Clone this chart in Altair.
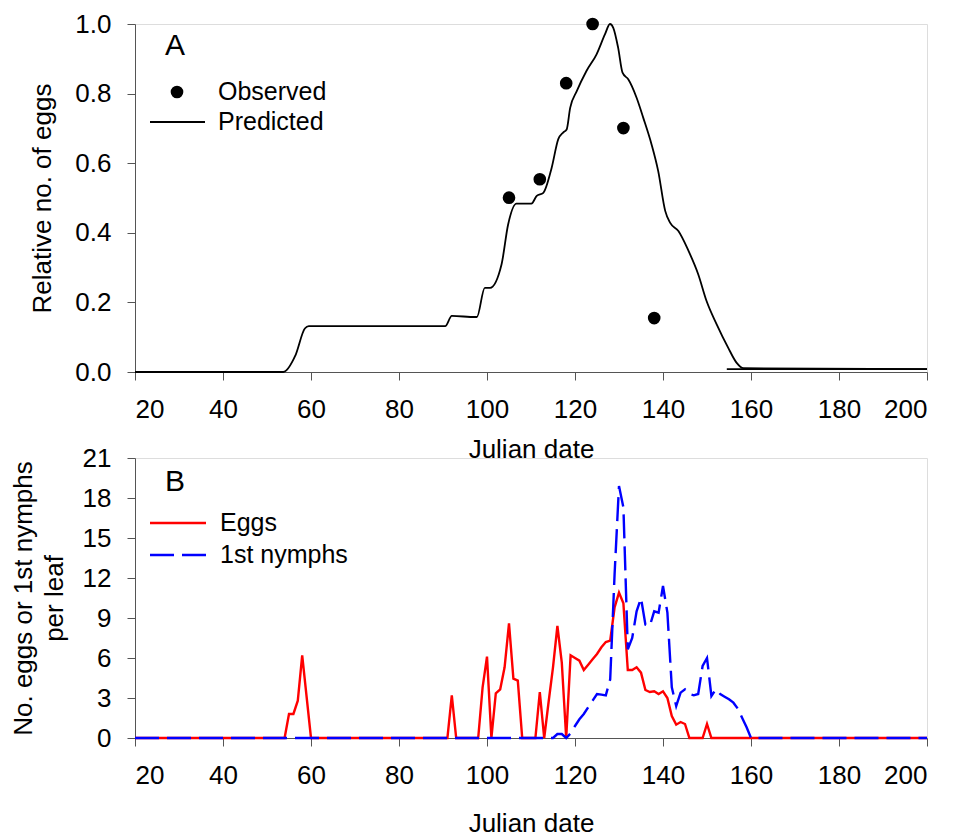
import altair as alt
import pandas as pd

# ---------------- Panel A data ----------------
obs_day = [105, 112, 118, 124, 131, 138]
obs_val = [0.501, 0.554, 0.830, 1.0, 0.701, 0.155]

pred_day = [20, 53.7, 56.4, 58.6, 59.5, 90.5, 92, 97.3, 97.7, 99.5, 100.7, 103.3,
            104.8, 106.7, 110.1, 111.3, 112.8, 114.7, 116.2, 117.3, 118.1, 118.9,
            120.4, 122.6, 124.9, 126.8, 127.95, 128.7, 129.8, 130.8, 132.1, 134.0,
            135.5, 137.4, 138.9, 140.5, 141.6, 143.5, 145.8, 148.0, 149.9, 152.2,
            154.8, 156.7, 158.3, 200]
pred_val = [0, 0, 0.046, 0.125, 0.132, 0.132, 0.161, 0.158, 0.158, 0.242, 0.242, 0.309,
            0.424, 0.484, 0.484, 0.506, 0.515, 0.587, 0.669, 0.688, 0.697, 0.759,
            0.807, 0.865, 0.913, 0.970, 1.0, 0.989, 0.932, 0.860, 0.841, 0.788,
            0.731, 0.654, 0.578, 0.463, 0.429, 0.405, 0.348, 0.281, 0.204, 0.137,
            0.070, 0.027, 0.011, 0.008]

tail_day = [154.5, 200]
tail_val = [0.008, 0.008]

# ---------------- Panel B data ----------------
eggs_day = [20, 54, 55, 56, 57, 58, 60, 91, 92, 93, 98, 99, 100, 101, 102, 103, 104,
            105, 106, 107, 108, 111, 112, 113, 114, 115, 116, 117, 118, 119, 120, 121,
            122, 123, 124, 125, 126, 127, 128, 129, 130, 131, 132, 133, 134, 135, 136,
            137, 138, 139, 140, 141, 142, 143, 144, 145, 146, 149, 150, 151, 200]
eggs_val = [0, 0, 1.8, 1.8, 2.8, 6.2, 0, 0, 3.2, 0, 0, 3.8, 6.1, 0, 3.35, 3.65, 5.3,
            8.6, 4.45, 4.3, 0, 0, 3.45, 0, 2.7, 5.3, 8.4, 5.65, 0, 6.2, 6.0, 5.8,
            5.1, 5.5, 5.9, 6.3, 6.8, 7.2, 7.3, 9.8, 10.9, 10.1, 5.1, 5.1, 5.3, 4.9, 3.6,
            3.45, 3.5, 3.3, 3.5, 3.0, 1.65, 1.0, 1.2, 1.05, 0, 0, 1.05, 0, 0]

nym_day = [20, 115, 116, 117, 118, 119, 120, 121, 122, 123, 124, 125, 126, 127, 128,
           129, 130, 131, 132, 133, 134, 135, 136, 137, 138, 139, 140, 141, 142, 143,
           144, 145, 146, 147, 148, 149, 150, 151, 152, 153, 154, 155, 156, 157, 158,
           159, 160, 200]
nym_val = [0, 0, 0.3, 0.3, 0, 0.35, 0.9, 1.4, 1.8, 2.3, 2.8, 3.3, 3.25, 3.2, 4.4,
           12.3, 18.9, 17.3, 6.65, 7.5, 9.5, 10.5, 8.5, 8.4, 9.5, 9.4, 11.4, 9.4, 3.8,
           2.4, 3.4, 3.65, 3.3, 3.2, 3.3, 5.4, 6.0, 3.15, 3.65, 3.3, 3.1, 2.9, 2.65,
           2.2, 1.5, 0.8, 0, 0]

x_ticks = [20, 40, 60, 80, 100, 120, 140, 160, 180, 200]
ya_ticks = [0.0, 0.2, 0.4, 0.6, 0.8, 1.0]
yb_ticks = [0, 3, 6, 9, 12, 15, 18, 21]

W = 792
HA = 348
HB = 280
FONT = "Liberation Sans"
AX = "#555555"

pred_df = pd.DataFrame({"day": pred_day, "val": pred_val})
tail_df = pd.DataFrame({"day": tail_day, "val": tail_val})
obs_df = pd.DataFrame({"day": obs_day, "val": obs_val})
eggs_df = pd.DataFrame({"day": eggs_day, "val": eggs_val})
nym_df = pd.DataFrame({"day": nym_day, "val": nym_val})
dummy = pd.DataFrame({"a": [0]})

def x_axis(title_y):
    return alt.Axis(values=x_ticks, title="Julian date", grid=False, domainColor=AX,
                    tickColor=AX, tickSize=8, labelFontSize=26, labelPadding=16,
                    labelColor="black", titleFontSize=26, titleFontWeight="normal",
                    titleColor="black", titleX=W / 2, titleY=title_y,
                    titleBaseline="middle", titleAlign="center")

xA = alt.X("day:Q", scale=alt.Scale(domain=[20, 200], nice=False), axis=x_axis(77))
yA = alt.Y("val:Q", scale=alt.Scale(domain=[0, 1], nice=False),
           axis=alt.Axis(values=ya_ticks, format=".1f", title="Relative no. of eggs",
                         grid=False, domainColor=AX, tickColor=AX, tickSize=8,
                         labelFontSize=26, labelPadding=16, labelColor="black",
                         titleFontSize=26, titleFontWeight="normal", titleColor="black",
                         titleX=-93, titleY=HA / 2, titleAngle=-90,
                         titleBaseline="middle", titleAlign="center"))

pred_line = alt.Chart(pred_df).mark_line(color="black", strokeWidth=1.8,
                                         interpolate="monotone").encode(x=xA, y=yA)
tail_line = alt.Chart(tail_df).mark_line(color="black", strokeWidth=1.8).encode(x=xA, y=yA)
obs_pts = alt.Chart(obs_df).mark_point(filled=True, color="black", opacity=1,
                                       size=160, shape="circle").encode(x=xA, y=yA)

def txt(x, y, s, size=25, align="left"):
    return alt.Chart(dummy).mark_text(font=FONT, fontSize=size, align=align,
                                      baseline="middle", color="black").encode(
        x=alt.value(x), y=alt.value(y), text=alt.value(s))

legA = [
    txt(40, 22, "A", 30, "center"),
    alt.Chart(dummy).mark_point(filled=True, color="black", opacity=1, size=160,
                                shape="circle").encode(x=alt.value(42), y=alt.value(68)),
    txt(83, 68, "Observed"),
    alt.Chart(dummy).mark_rule(color="black", strokeWidth=1.8).encode(
        x=alt.value(15), x2=alt.value(70), y=alt.value(98)),
    txt(83, 98, "Predicted"),
]

panelA = alt.layer(pred_line, tail_line, obs_pts, *legA).properties(width=W, height=HA)

xB = alt.X("day:Q", scale=alt.Scale(domain=[20, 200], nice=False), axis=x_axis(85))
yB = alt.Y("val:Q", scale=alt.Scale(domain=[0, 21], nice=False),
           axis=alt.Axis(values=yb_ticks, title=["No. eggs or 1st nymphs", "per leaf"],
                         grid=False, domainColor=AX, tickColor=AX, tickSize=8,
                         labelFontSize=26, labelPadding=16, labelColor="black",
                         titleFontSize=26, titleFontWeight="normal", titleColor="black",
                         titleX=-112, titleY=HB / 2, titleAngle=-90, titleLineHeight=31,
                         titleBaseline="middle", titleAlign="center"))

eggs_line = alt.Chart(eggs_df).mark_line(color="#ff0000", strokeWidth=2.4).encode(x=xB, y=yB)
nym_line = alt.Chart(nym_df).mark_line(color="#0000ff", strokeWidth=2.4,
                                       strokeDash=[24, 8]).encode(x=xB, y=yB)

legB = [
    txt(40, 24, "B", 30, "center"),
    alt.Chart(dummy).mark_rule(color="#ff0000", strokeWidth=2.4).encode(
        x=alt.value(15), x2=alt.value(71), y=alt.value(65)),
    txt(85, 65, "Eggs"),
    alt.Chart(dummy).mark_rule(color="#0000ff", strokeWidth=2.4, strokeDash=[24, 8]).encode(
        x=alt.value(15), x2=alt.value(71), y=alt.value(97)),
    txt(85, 97, "1st nymphs"),
]

panelB = alt.layer(eggs_line, nym_line, *legB).properties(width=W, height=HB)

chart = alt.vconcat(panelA, panelB, spacing=86, bounds="flush").properties(
    padding={"left": 9, "top": 10, "right": 5, "bottom": 5},
    background="white",
).configure_view(stroke=None).configure(font=FONT)

chart.save("out.html", embed_options={"renderer": "svg", "actions": False})
